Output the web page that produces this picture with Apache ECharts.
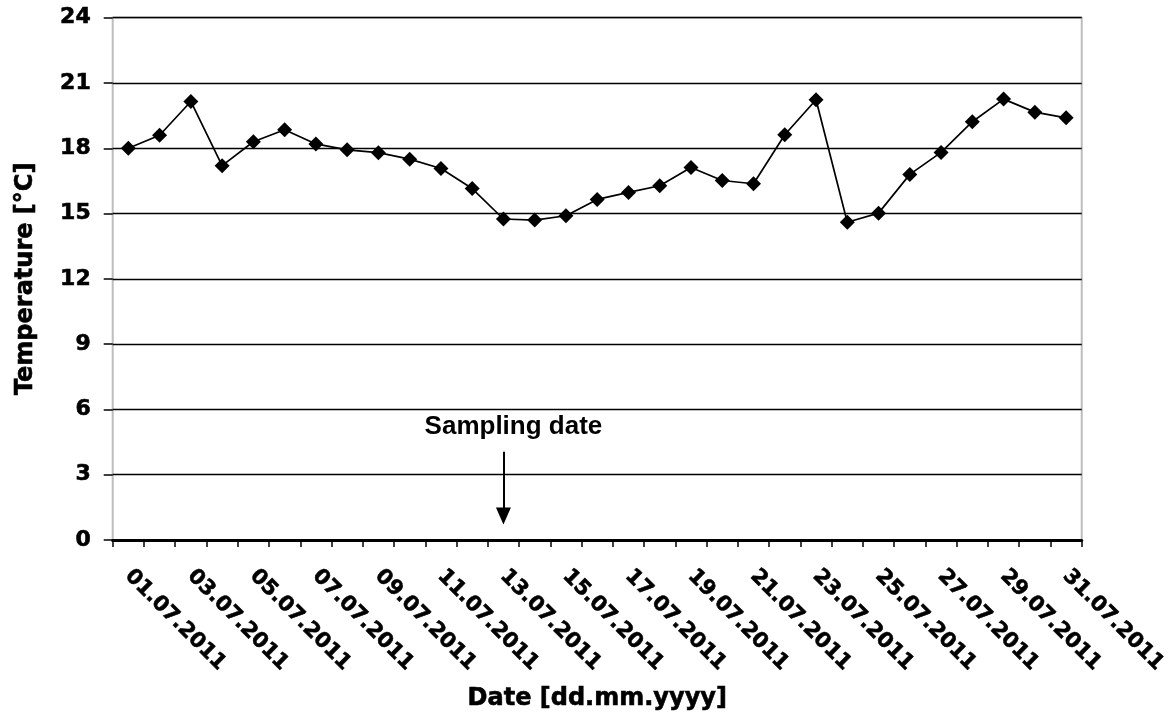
<!DOCTYPE html>
<html>
<head>
<meta charset="utf-8">
<script src="https://cdn.jsdelivr.net/npm/echarts@6/dist/echarts.min.js"></script>
<style>
html,body{margin:0;padding:0;background:#fff;}
#chart{width:1170px;height:719px;}
</style>
</head>
<body>
<div id="chart"></div>
<script>
const dates = ["01.07.2011","02.07.2011","03.07.2011","04.07.2011","05.07.2011","06.07.2011","07.07.2011","08.07.2011","09.07.2011","10.07.2011","11.07.2011","12.07.2011","13.07.2011","14.07.2011","15.07.2011","16.07.2011","17.07.2011","18.07.2011","19.07.2011","20.07.2011","21.07.2011","22.07.2011","23.07.2011","24.07.2011","25.07.2011","26.07.2011","27.07.2011","28.07.2011","29.07.2011","30.07.2011","31.07.2011"];
const temperature = [18.0,18.6,20.15,17.2,18.3,18.85,18.2,17.93,17.8,17.5,17.07,16.15,14.75,14.7,14.9,15.65,15.97,16.28,17.12,16.52,16.37,18.62,20.23,14.6,15.02,16.8,17.81,19.22,20.26,19.66,19.4];
const yTicks = [0,3,6,9,12,15,18,21,24];
const samplingDate = "13.07.2011";
const arrowFrom = 4.05;
const arrowTo = 1.1;
const annotationLevel = 5.2;
const annotationText = "Sampling date";

const chart = echarts.init(document.getElementById('chart'));
const boldFont = "'DejaVu Sans', sans-serif";
const heavy = {textBorderColor: '#000', textBorderWidth: 0.6};
chart.setOption({
  animation: false,
  backgroundColor: '#ffffff',
  grid: {
    left: 112.7, right: 87.3, top: 17.7, bottom: 179,
    show: true, borderColor: '#bdbdbd', borderWidth: 2, backgroundColor: 'transparent'
  },
  xAxis: {
    type: 'category',
    data: dates,
    boundaryGap: true,
    name: 'Date [dd.mm.yyyy]',
    nameLocation: 'middle',
    nameGap: 147,
    nameTextStyle: Object.assign({fontFamily: boldFont, fontWeight: 'bold', fontSize: 24, color: '#000'}, heavy),
    axisLine: {lineStyle: {color: '#000', width: 3}},
    axisTick: {show: true, interval: 0, length: 7, lineStyle: {color: '#000', width: 1.5}},
    axisLabel: Object.assign({
      interval: 1, rotate: -45, margin: 33,
      fontFamily: boldFont, fontWeight: 'bold', fontSize: 21, color: '#000'
    }, heavy),
    splitLine: {show: false}
  },
  yAxis: {
    type: 'value',
    min: yTicks[0], max: yTicks[yTicks.length - 1], interval: 3,
    name: 'Temperature [°C]',
    nameLocation: 'middle',
    nameGap: 75,
    nameTextStyle: Object.assign({fontFamily: boldFont, fontWeight: 'bold', fontSize: 24, color: '#000'}, heavy),
    axisLine: {show: false},
    axisTick: {show: true, length: 9, lineStyle: {color: '#000', width: 1.5}},
    axisLabel: Object.assign({margin: 22, fontFamily: boldFont, fontWeight: 'bold', fontSize: 22, color: '#000'}, heavy),
    splitLine: {show: true, lineStyle: {color: '#000', width: 1.3}}
  },
  series: [{
    type: 'line',
    data: temperature,
    symbol: 'diamond',
    symbolSize: 15,
    itemStyle: {color: '#000'},
    lineStyle: {color: '#000', width: 1.7},
    z: 5,
    markPoint: {
      silent: true,
      symbol: 'circle',
      symbolSize: 0,
      label: {
        show: true, position: 'inside', offset: [10, 0],
        formatter: annotationText,
        fontFamily: "'Liberation Sans', Arial, sans-serif", fontWeight: 'bold', fontSize: 26, color: '#000'
      },
      data: [{coord: [samplingDate, annotationLevel]}]
    },
    markLine: {
      silent: true,
      animation: false,
      symbol: ['none', 'triangle'],
      symbolSize: [15, 17],
      lineStyle: {color: '#000', width: 2, type: 'solid'},
      label: {show: false},
      data: [[
        {coord: [samplingDate, arrowFrom]},
        {coord: [samplingDate, arrowTo]}
      ]]
    }
  }]
});
</script>
</body>
</html>
